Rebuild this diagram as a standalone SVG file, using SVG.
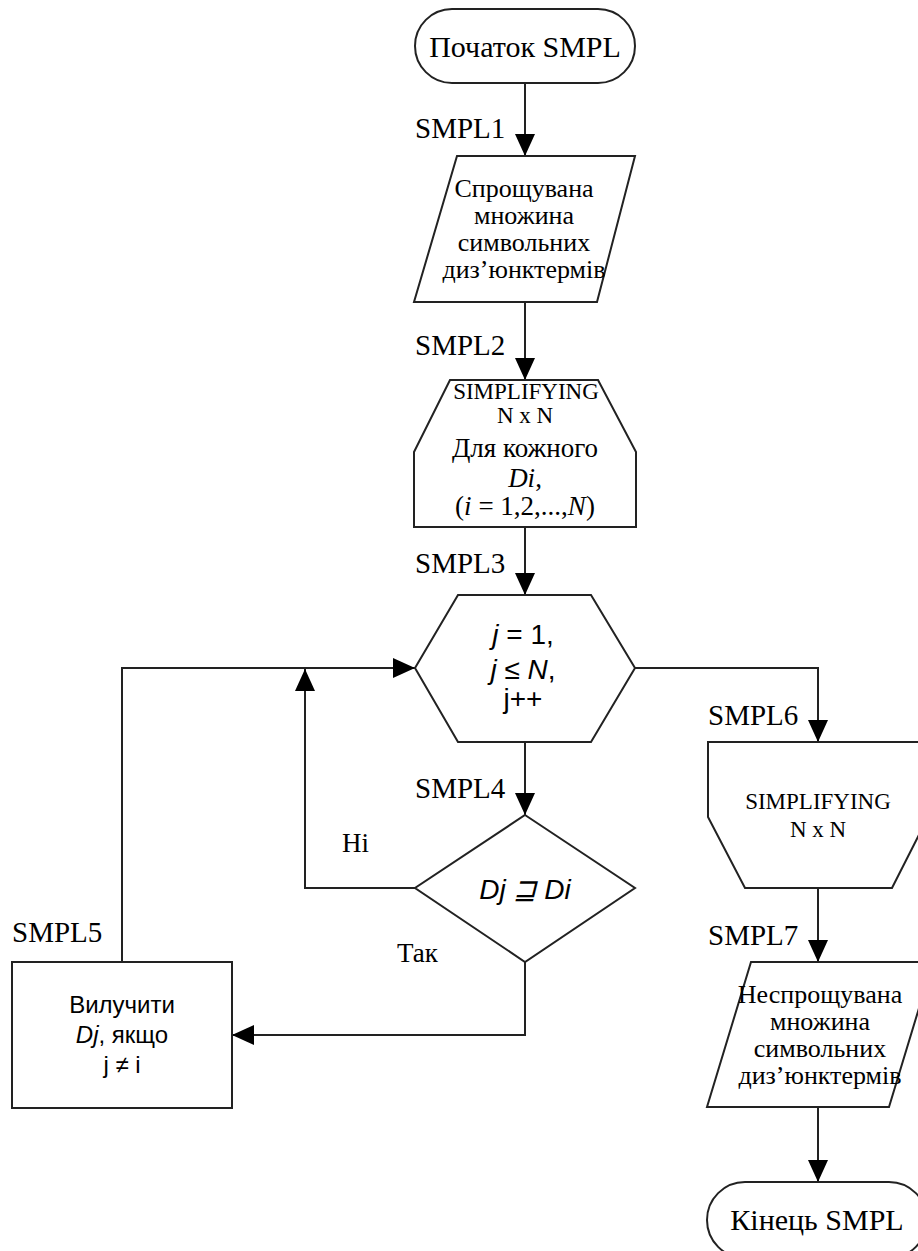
<svg xmlns="http://www.w3.org/2000/svg" width="918" height="1251" viewBox="0 0 918 1251">
  <defs>
    <marker id="arrow" viewBox="0 0 22 20" refX="22" refY="10" markerWidth="22" markerHeight="20" markerUnits="userSpaceOnUse" orient="auto">
      <path d="M0,0 L22,10 L0,20 z" fill="#000"/>
    </marker>
    <style>
      .shape { fill: #fff; stroke: #222; stroke-width: 2; stroke-linejoin: miter; }
      .wire { fill: none; stroke: #222; stroke-width: 2; marker-end: url(#arrow); }
      .serif { font-family: "Liberation Serif", "Times New Roman", serif; fill: #000; }
      .sans { font-family: "Liberation Sans", Arial, sans-serif; fill: #000; }
      .lbl { font-size: 29px; }
      .mid { text-anchor: middle; }
      .it { font-style: italic; }
    </style>
  </defs>

  <rect width="918" height="1251" fill="#fff"/>

  <!-- connectors -->
  <g id="connectors">
    <path class="wire" d="M525,83 L525,156"/>
    <path class="wire" d="M525,302 L525,380"/>
    <path class="wire" d="M525,527 L525,595"/>
    <path class="wire" d="M525,742 L525,815"/>
    <path class="wire" d="M415,888 L305,888 L305,669"/>
    <path class="wire" d="M525,962 L525,1035 L232,1035"/>
    <path class="wire" d="M122,962 L122,668 L415,668"/>
    <path class="wire" d="M635,668 L818,668 L818,742"/>
    <path class="wire" d="M818,888 L818,962"/>
    <path class="wire" d="M818,1107 L818,1182"/>
  </g>

  <!-- start terminator -->
  <g id="start">
    <rect class="shape" x="415" y="9" width="220" height="74" rx="37" ry="37"/>
    <text class="serif mid" x="525" y="57" font-size="30">Початок SMPL</text>
  </g>

  <!-- SMPL1: input data -->
  <g id="smpl1">
    <text class="serif lbl" x="415" y="138">SMPL1</text>
    <polygon class="shape" points="457,156 635,156 597,302 414,302"/>
    <g class="serif mid" font-size="26">
      <text x="524" y="197">Спрощувана</text>
      <text x="524" y="224">множина</text>
      <text x="524" y="251">символьних</text>
      <text x="524" y="278">диз’юнктермів</text>
    </g>
  </g>

  <!-- SMPL2: loop start -->
  <g id="smpl2">
    <text class="serif lbl" x="415" y="355">SMPL2</text>
    <polygon class="shape" points="450,380 598,380 636,452 636,527 414,527 414,452"/>
    <g class="serif mid">
      <text x="526" y="399" font-size="23">SIMPLIFYING</text>
      <text x="525" y="423" font-size="23">N x N</text>
      <text x="525" y="457" font-size="27">Для кожного</text>
      <text x="525" y="487" font-size="27"><tspan class="it">Di</tspan>,</text>
      <text x="525" y="515" font-size="27">(<tspan class="it">i</tspan> = 1,2,...,<tspan class="it">N</tspan>)</text>
    </g>
  </g>

  <!-- SMPL3: inner loop -->
  <g id="smpl3">
    <text class="serif lbl" x="415" y="573">SMPL3</text>
    <polygon class="shape" points="458,595 591,595 635,668 591,742 458,742 415,668"/>
    <g class="sans mid" font-size="28">
      <text x="523" y="644"><tspan class="it">j</tspan> = 1,</text>
      <text x="523" y="679"><tspan class="it">j</tspan> ≤ <tspan class="it">N</tspan>,</text>
      <text x="523" y="708">j++</text>
    </g>
  </g>

  <!-- SMPL4: decision -->
  <g id="smpl4">
    <text class="serif lbl" x="415" y="798">SMPL4</text>
    <polygon class="shape" points="525,815 635,888 525,962 415,888"/>
    <text class="sans mid it" x="525" y="899" font-size="28">Dj ⊒ Di</text>
    <text class="serif" x="342" y="852" font-size="27">Ні</text>
    <text class="serif" x="397" y="962" font-size="27">Так</text>
  </g>

  <!-- SMPL5: process -->
  <g id="smpl5">
    <text class="serif lbl" x="12" y="942">SMPL5</text>
    <rect class="shape" x="12" y="962" width="220" height="146"/>
    <g class="sans mid" font-size="24">
      <text x="122" y="1013">Вилучити</text>
      <text x="122" y="1043"><tspan class="it">Dj</tspan>, якщо</text>
      <text x="122" y="1073">j ≠ i</text>
    </g>
  </g>

  <!-- SMPL6: loop end -->
  <g id="smpl6">
    <text class="serif lbl" x="708" y="725">SMPL6</text>
    <polygon class="shape" points="708,742 928,742 928,817 892,888 745,888 708,817"/>
    <g class="serif mid" font-size="23">
      <text x="818" y="809">SIMPLIFYING</text>
      <text x="818" y="837">N x N</text>
    </g>
  </g>

  <!-- SMPL7: output data -->
  <g id="smpl7">
    <text class="serif lbl" x="708" y="945">SMPL7</text>
    <polygon class="shape" points="751,962 933,962 889,1107 707,1107"/>
    <g class="serif mid" font-size="26">
      <text x="820" y="1003">Неспрощувана</text>
      <text x="820" y="1030">множина</text>
      <text x="820" y="1057">символьних</text>
      <text x="820" y="1084">диз’юнктермів</text>
    </g>
  </g>

  <!-- end terminator -->
  <g id="end">
    <rect class="shape" x="707" y="1182" width="220" height="76" rx="38" ry="38"/>
    <text class="serif mid" x="817" y="1230" font-size="30">Кінець SMPL</text>
  </g>
</svg>
